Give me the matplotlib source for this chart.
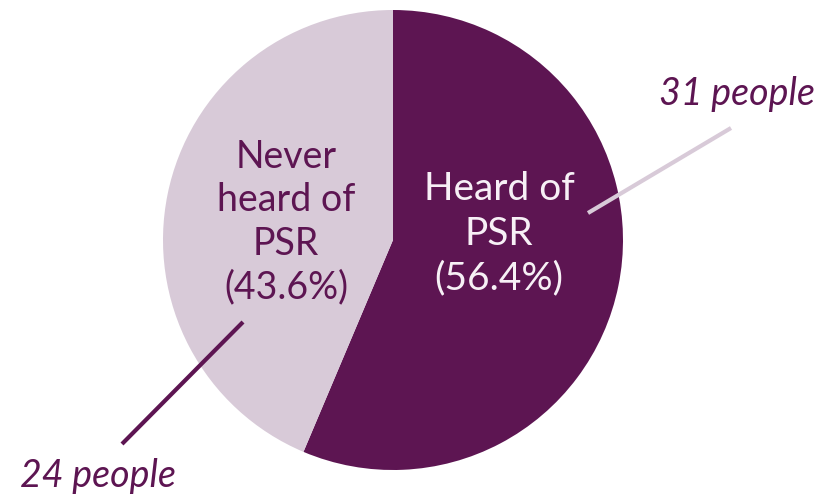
import matplotlib
matplotlib.use("Agg")
import matplotlib.pyplot as plt

labels = ["Heard of\nPSR", "Never\nheard of\nPSR"]
counts = [31, 24]
colors = ["#5D1552", "#D8CAD8"]

W, H = 821, 497
fig = plt.figure(figsize=(W / 100, H / 100), dpi=100)
ax = fig.add_axes([0, 0, 1, 1])

cx, cy, r = 393, H - 240, 230
ax.pie(counts, colors=colors, startangle=90, counterclock=False,
       center=(cx, cy), radius=r, frame=True,
       wedgeprops=dict(linewidth=0))
ax.set_xlim(0, W)
ax.set_ylim(0, H)
ax.set_aspect("equal")
ax.axis("off")

total = sum(counts)
pcts = [100 * c / total for c in counts]
font = "Lato"

ax.text(499, H - 234, f"{labels[0]}\n({pcts[0]:.1f}%)", ha="center", va="center",
        color="#F7F0F6", fontsize=28, family=font, linespacing=1.3)
ax.text(286, H - 222, f"{labels[1]}\n({pcts[1]:.1f}%)", ha="center", va="center",
        color="#5D1552", fontsize=27, family=font, linespacing=1.25)

# leader lines and count labels
ax.plot([588, 731], [H - 213, H - 128], color="#D8CAD8", lw=3, solid_capstyle="butt")
ax.plot([243, 122], [H - 322, H - 444], color="#5D1552", lw=3, solid_capstyle="butt")
ax.text(737, H - 105, f"{counts[0]} people", ha="center", va="baseline",
        color="#5D1552", fontsize=27, family=font, style="italic")
ax.text(98, H - 487, f"{counts[1]} people", ha="center", va="baseline",
        color="#5D1552", fontsize=27, family=font, style="italic")

fig.savefig("out.png", dpi=100)
